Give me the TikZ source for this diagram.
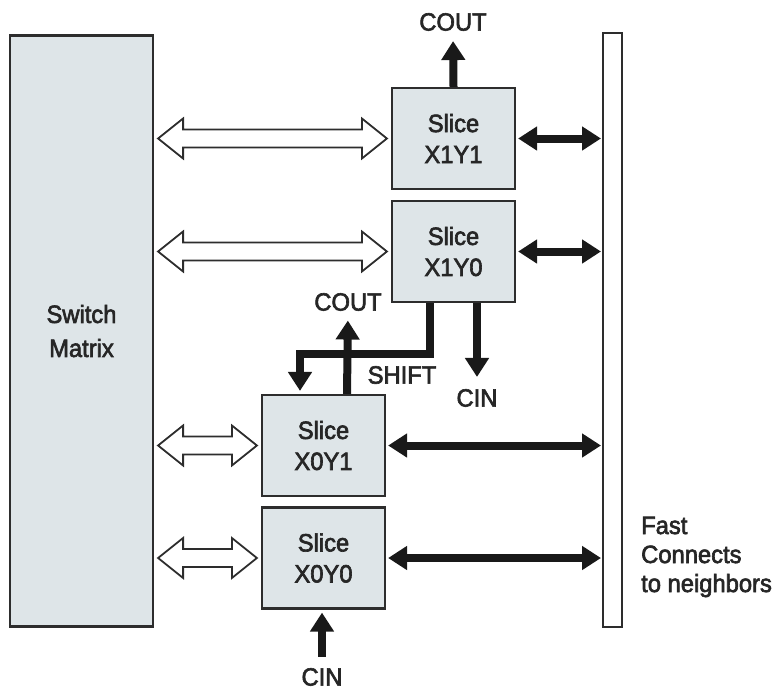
\documentclass[tikz,border=0pt]{standalone}
\usepackage{fontspec}
\setmainfont{Liberation Sans}[FakeBold=2.5,FakeStretch=0.95]
\usetikzlibrary{arrows.meta,calc}
\definecolor{slicefill}{RGB}{222,229,232}
\definecolor{edge}{RGB}{45,45,45}
\newcommand\hollowarr[1]{%
  \path[hollow] let \p1=($(sm.east |- #1.west)+(4,0)$), \p2=($(#1.west)+(-4,0)$) in
    (\p1) -- (\x1+25pt,\y1+20pt) -- (\x1+25pt,\y1+9pt) -- (\x2-25pt,\y1+9pt)
    -- (\x2-25pt,\y1+20pt) -- (\p2) -- (\x2-25pt,\y1-20pt) -- (\x2-25pt,\y1-9pt)
    -- (\x1+25pt,\y1-9pt) -- (\x1+25pt,\y1-20pt) -- cycle;}
\begin{document}
\begin{tikzpicture}[x=1pt,y=-1pt,
  box/.style={draw=edge, line width=2.2pt, fill=slicefill},
  slicebox/.style={box, minimum width=123pt, minimum height=101pt, inner sep=0pt,
    align=center, font=\fontsize{25}{31}\selectfont, text=black!85},
  lbl/.style={font=\fontsize{25}{29}\selectfont, inner sep=0pt, text=black!85},
  blk/.style={line width=8pt, draw=black!90, line join=miter,
    -{Triangle[length=19pt,width=23pt]}},
  blk2/.style={line width=8pt, draw=black!90,
    {Triangle[length=19pt,width=23pt]}-{Triangle[length=19pt,width=23pt]}},
  hollow/.style={draw=edge, line width=1.8pt, fill=white, line join=miter}
]
\useasboundingbox (0,0) rectangle (784,691);

\node[box, minimum width=143pt, minimum height=591pt, inner sep=0pt, align=center,
  font=\fontsize{25}{34}\selectfont, text=black!85] (sm) at (81.5,331) {Switch\\Matrix};
\node[draw=edge, line width=2pt, fill=white, minimum width=19pt, minimum height=594pt,
  inner sep=0pt] (bar) at (612.5,330) {};

\node[slicebox] (x1y1) at (453.5,138.5) {Slice\\X1Y1};
\node[slicebox] (x1y0) at (453.5,251.5) {Slice\\X1Y0};
\node[slicebox] (x0y1) at (323.5,445.5) {Slice\\X0Y1};
\node[slicebox] (x0y0) at (323.5,558) {Slice\\X0Y0};

\hollowarr{x1y1}
\hollowarr{x1y0}
\hollowarr{x0y1}
\hollowarr{x0y0}

\draw[blk2] ([xshift=2pt]x1y1.east) -- ([xshift=-1pt]bar.west |- x1y1.east);
\draw[blk2] ([xshift=2pt]x1y0.east) -- ([xshift=-1pt]bar.west |- x1y0.east);
\draw[blk2] ([xshift=2pt]x0y1.east) -- ([xshift=-1pt]bar.west |- x0y1.east);
\draw[blk2] ([xshift=2pt]x0y0.east) -- ([xshift=-1pt]bar.west |- x0y0.east);

\node[lbl] (cout1) at (453,22) {COUT};
\draw[blk, shorten >=10pt] (x1y1.north) -- (cout1.south);

\node[lbl] (cout2) at (348,302) {COUT};
\draw[blk, shorten >=9.5pt] ([xshift=23.5pt]x0y1.north) -- (cout2.south);

\node[lbl] (shift) at (402,375) {SHIFT};
\draw[blk, shorten >=3pt] ([xshift=-23.5pt]x1y0.south) -- ++(0,51)
  -| ([xshift=-23.5pt]x0y1.north);

\node[lbl] (cin1) at (477,398) {CIN};
\draw[blk, shorten >=12pt] ([xshift=23.5pt]x1y0.south) -- (cin1.north);

\node[lbl] (cin0) at (322,677) {CIN};
\draw[blk, shorten <=11pt, shorten >=3pt] (cin0.north) -- (cin0.north |- x0y0.south);

\node[lbl, anchor=west, align=left] (fc) at (641,557) {Fast\\Connects\\to neighbors};
\end{tikzpicture}
\end{document}
